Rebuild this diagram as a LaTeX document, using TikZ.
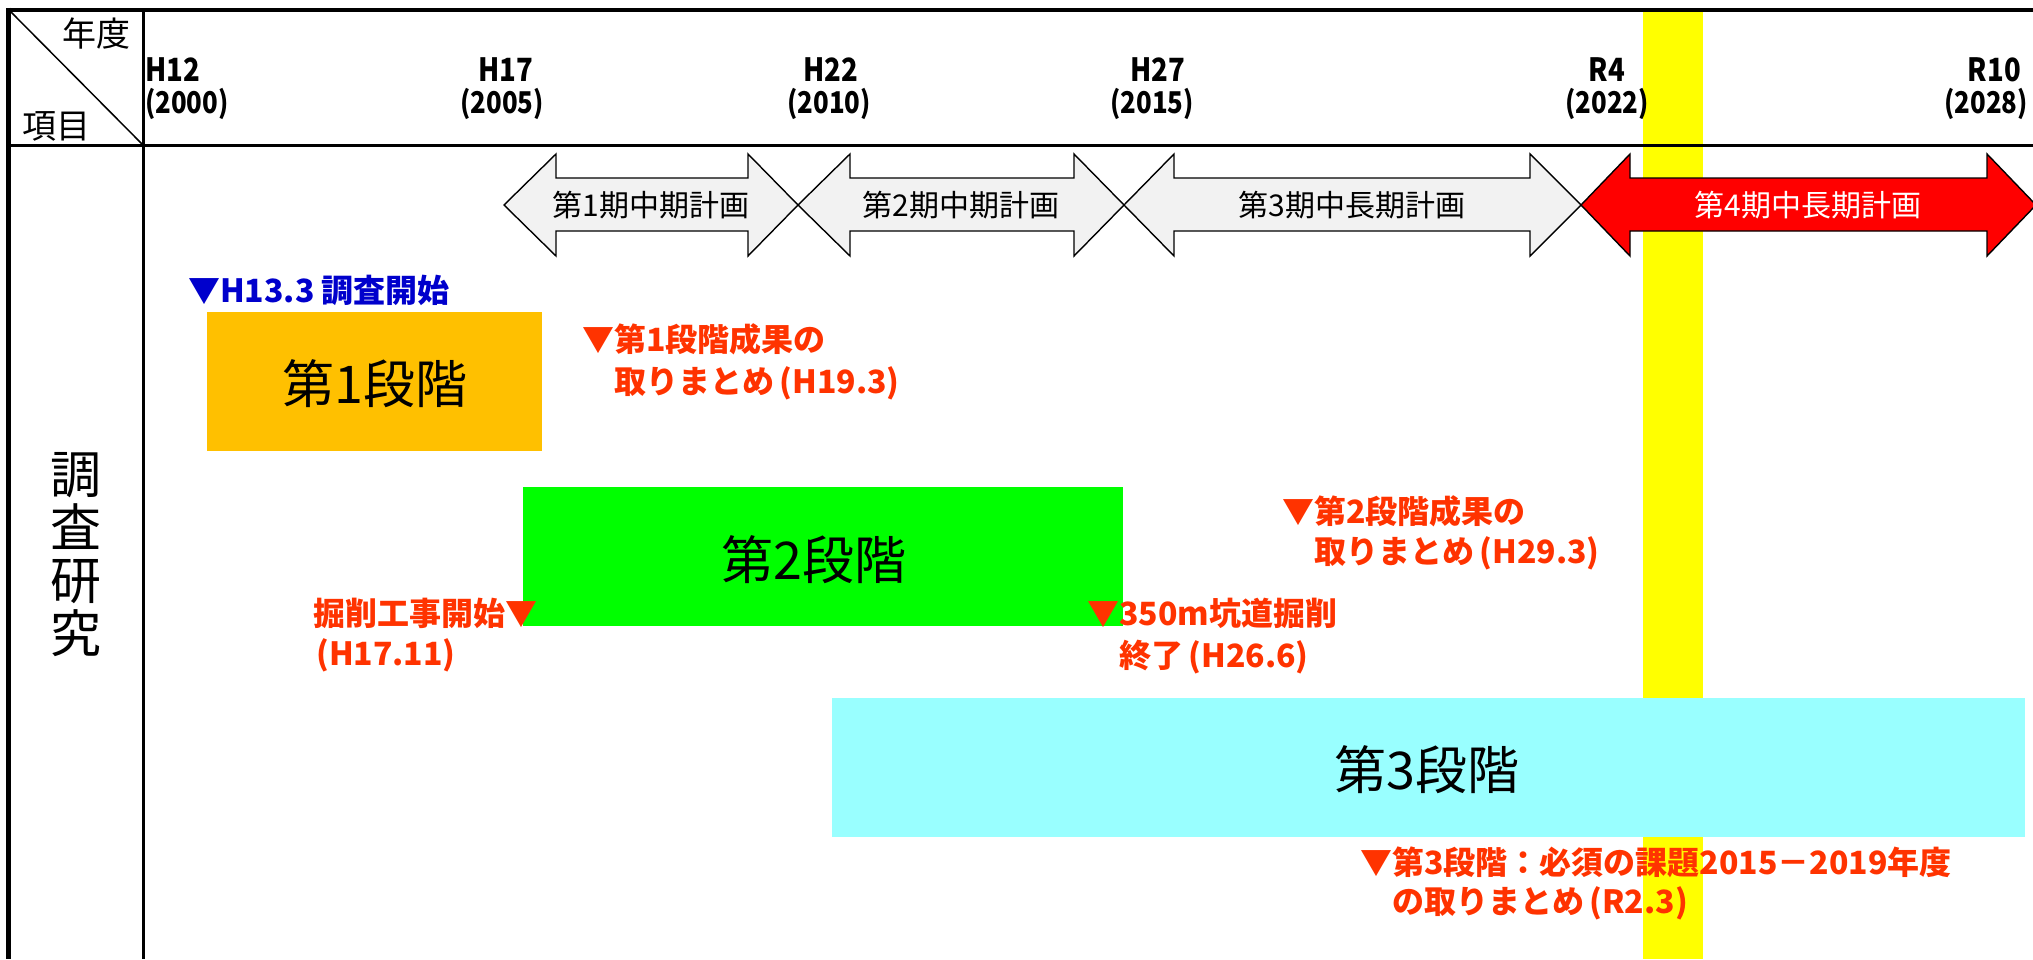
\documentclass[tikz,border=0pt]{standalone}
\usepackage{fontspec}
\setmainfont{Noto Sans CJK JP}
\newfontfamily\condfont[FakeStretch=0.86]{Noto Sans CJK JP}
\definecolor{st1}{HTML}{FFC000}
\definecolor{st2}{HTML}{00FF00}
\definecolor{st3}{HTML}{99FFFF}
\definecolor{yband}{HTML}{FFFF00}
\definecolor{arrgrey}{HTML}{F2F2F2}
\definecolor{arrred}{HTML}{FF0000}
\definecolor{annred}{HTML}{FF3300}
\definecolor{annblue}{HTML}{0000CC}
\tikzset{
  stagebox/.style={inner sep=0pt, draw=none, font=\fontsize{52}{60}\selectfont},
  planarrow/.style={draw=black, line width=1.4pt, line join=miter, fill=arrgrey},
  planarrowred/.style={draw=black, line width=1.4pt, line join=miter, fill=arrred},
  plantext/.style={inner sep=0pt, font=\fontsize{30}{36}\selectfont},
  ann/.style={inner sep=0pt, text=annred, font=\fontsize{32}{40}\selectfont\bfseries},
  yrH/.style={inner sep=0pt, font=\condfont\fontsize{32}{36}\selectfont\bfseries},
  yrN/.style={inner sep=0pt, font=\condfont\fontsize{30}{32}\selectfont\bfseries},
  hdr/.style={inner sep=0pt, font=\fontsize{34}{40}\selectfont},
}
\begin{document}
\begin{tikzpicture}[x=1pt,y=-1pt]
\useasboundingbox (0,0) rectangle (2033,959);
% current-year band
\fill[yband] (1643,11) rectangle (1703,959);
% stage boxes
\node[stagebox, fill=st1, minimum width=335pt, minimum height=139pt] (s1) at (374.5,381.5) {};
\node[stagebox] (s1t) at (375,384) {第1段階};
\node[stagebox, fill=st2, minimum width=600pt, minimum height=139pt] (s2) at (823,556.5) {};
\node[stagebox] (s2t) at (814,560) {第2段階};
\node[stagebox, fill=st3, minimum width=1193pt, minimum height=139pt] (s3) at (1428.5,767.5) {};
\node[stagebox] (s3t) at (1427,770) {第3段階};
% plan arrows
\draw[planarrow] (504,205) -- (556,154) -- (556,178) -- (748,178) -- (748,154) -- (798,205)
  -- (748,256) -- (748,231) -- (556,231) -- (556,256) -- cycle;
\node[plantext] (p1) at (651,205) {第1期中期計画};
\draw[planarrow] (798,205) -- (850,154) -- (850,178) -- (1074,178) -- (1074,154) -- (1124,205)
  -- (1074,256) -- (1074,231) -- (850,231) -- (850,256) -- cycle;
\node[plantext] (p2) at (961,205) {第2期中期計画};
\draw[planarrow] (1124,205) -- (1174,154) -- (1174,178) -- (1530,178) -- (1530,154) -- (1581,205)
  -- (1530,256) -- (1530,231) -- (1174,231) -- (1174,256) -- cycle;
\node[plantext] (p3) at (1352,205) {第3期中長期計画};
\draw[planarrowred] (1581,205) -- (1630,154) -- (1630,178) -- (1987,178) -- (1987,154) -- (2036,205)
  -- (1987,256) -- (1987,231) -- (1630,231) -- (1630,256) -- cycle;
\node[plantext, text=white] (p4) at (1808,205) {第4期中長期計画};
% table frame
\draw[line width=4pt] (6,9.5) -- (2033,9.5);
\draw[line width=5pt] (8.5,7.5) -- (8.5,959);
\draw[line width=3pt] (143.5,9) -- (143.5,959);
\draw[line width=3pt] (8,145) -- (2033,145);
\draw[line width=1.5pt] (9,10) -- (143,145);
% header texts
\node[hdr, anchor=east] (hy) at (131,34) {年度};
\node[hdr, anchor=west] (hi) at (22,126) {項目};
\node[yrH, anchor=west] (y1) at (145,70) {H12};
\node[yrN, anchor=west] (y1b) at (145,104) {(2000)};
\node[yrH] (y2) at (506,70) {H17};
\node[yrN] (y2b) at (502,104) {(2005)};
\node[yrH] (y3) at (831,70) {H22};
\node[yrN] (y3b) at (829,104) {(2010)};
\node[yrH] (y4) at (1158,70) {H27};
\node[yrN] (y4b) at (1152,104) {(2015)};
\node[yrH] (y5) at (1607,70) {R4};
\node[yrN] (y5b) at (1607,104) {(2022)};
\node[yrH, anchor=east] (y6) at (2021,70) {R10};
\node[yrN, anchor=east] (y6b) at (2028,104) {(2028)};
% row label
\node[inner sep=0pt, align=center, font=\fontsize{51}{53}\selectfont] (row) at (76,555) {調\\査\\研\\究};
% annotations
\node[ann, text=annblue, anchor=west] (a0) at (188,290) {▼H13.3 調査開始};
\node[ann, anchor=west] (a1) at (582,339) {▼第1段階成果の};
\node[ann, anchor=west] (a1b) at (582,383) {\phantom{▼}取りまとめ\,(H19.3)};
\node[ann, anchor=west] (a2) at (1282,511) {▼第2段階成果の};
\node[ann, anchor=west] (a2b) at (1282,553) {\phantom{▼}取りまとめ\,(H29.3)};
\node[ann, anchor=east] (a3) at (538,613) {掘削工事開始▼};
\node[ann, anchor=west] (a3b) at (316,655) {(H17.11)};
\node[ann, anchor=west] (a4) at (1087,613) {▼350m坑道掘削};
\node[ann, anchor=west] (a4b) at (1087,657) {\phantom{▼}終了\,(H26.6)};
\node[ann, anchor=west] (a5) at (1360,862) {▼第3段階：必須の課題2015－2019年度};
\node[ann, anchor=west] (a5b) at (1360,903) {\phantom{▼}の取りまとめ\,(R2.3)};
\end{tikzpicture}
\end{document}
